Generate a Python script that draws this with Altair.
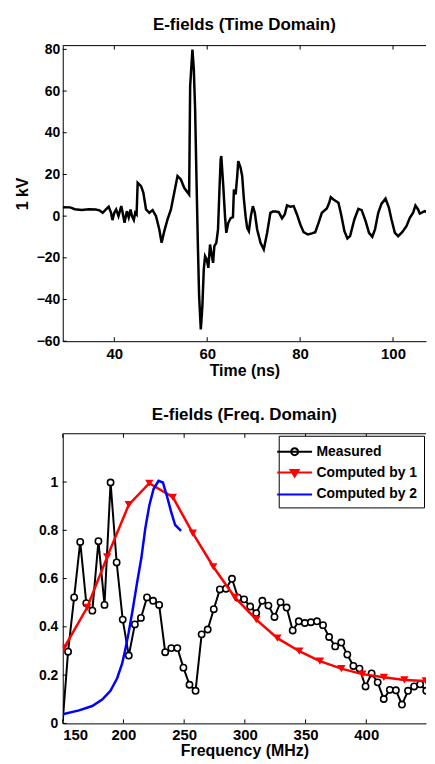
import altair as alt
import pandas as pd

FONT = "Liberation Sans"

# ---------------- Time-domain data ----------------
time_ns = [28.9, 30.5, 31.5, 33.0, 34.5, 36.0, 36.8, 37.5, 38.2, 38.8, 39.3, 39.6, 40.0, 40.4,
           40.9, 41.5, 41.8, 42.2, 42.7, 43.1, 43.5, 43.8, 44.2, 44.5, 44.8, 45.03, 45.76, 46.26,
           46.83, 47.54, 48.25, 48.98, 49.69, 50.18, 50.76, 51.46, 52.19, 52.90, 53.61, 54.33,
           55.04, 56.11, 56.33, 56.82, 57.12, 57.40, 57.68, 57.98, 58.26, 58.62, 58.96, 59.26,
           59.54, 59.90, 60.25, 60.61, 60.89, 61.26, 61.54, 61.96, 62.33, 62.61, 62.90, 63.03,
           63.46, 63.83, 64.11, 64.54, 65.05, 65.54, 65.75, 66.12, 66.46, 66.68, 67.19, 67.53,
           67.90, 68.26, 68.60, 68.97, 69.40, 69.83, 70.25, 70.75, 71.48, 72.18, 72.9, 73.6, 74.1,
           74.8, 75.40, 76.10, 76.68, 77.18, 77.90, 78.61, 79.32, 80.05, 80.75, 81.68, 82.53,
           83.26, 83.97, 84.68, 85.75, 86.26, 86.60, 87.18, 88.25, 88.83, 89.54, 90.18, 90.76,
           91.68, 92.54, 93.25, 94.10, 94.83, 95.54, 96.12, 96.82, 97.53, 98.39, 99.12, 99.67,
           100.40, 101.11, 101.97, 102.89, 103.62, 104.32, 104.82, 105.40, 105.76, 106.83,
           107.54, 108.61, 110.0]
efield_kv = [4.3, 4.2, 3.3, 3.0, 3.3, 3.2, 2.8, 1.6, 3.2, 4.5, 1.6, -1.9, 1.6, 3.2,
             0.0, 4.8, 1.6, -3.2, 2.4, -0.6, 3.2, 0.0, -1.9, 1.6, 0.8, 16.0, 14.4, 11.2,
             3.2, 1.6, 2.9, 0.0, -6.4, -12.8, -7.2, -1.6, 3.2, 11.2, 19.2, 17.6,
             13.6, 10.4, 62.4, 79.9, 70.3, 51.1, 19.2, -12.8, -38.4, -54.4, -43.2, -25.6,
             -19.2, -20.8, -24.8, -13.6, -17.6, -22.4, -14.4, -12.8, -6.4, 11.2, 27.2, 28.8,
             14.4, 0.0, -8.0, -3.2, -1.0, -0.5, 12.8, 10.4, 19.2, 26.4, 23.2, 19.2,
             8.0, 0.0, -5.6, -7.2, 0.0, 4.8, 1.6, -6.4, -12.8, -16.0, -8.0, 1.6, 2.2,
             2.2, 1.9, -1.1, 0.8, 5.1, 4.5, 4.8, 0.8, -4.0, -7.7, -8.8, -8.3,
             -7.7, -3.2, 1.6, 3.7, 6.4, 9.1, 8.0, 6.4, 0.8, -7.2, -10.7, -9.6,
             -1.6, 3.5, 2.9, -2.4, -8.0, -9.9, -6.4, 1.6, 6.0, 8.4, 4.0, -1.6,
             -8.0, -9.6, -7.7, -4.8, -0.8, 1.6, 5.1, 3.2, 1.2, 2.4,
             1.6, 2.1, 2.0]
time_ticks = [40, 60, 80, 100]
kv_ticks = [-60, -40, -20, 0, 20, 40, 60, 80]

# ---------------- Frequency-domain data ----------------
meas_freq = [150.0, 154.4, 159.4, 164.4, 169.4, 174.4, 179.4, 184.4, 189.4, 194.4, 199.4,
             204.4, 209.4, 214.4, 219.4, 224.4, 229.4, 234.4, 239.4, 244.4, 249.4,
             254.4, 259.4, 264.4, 269.4, 274.4, 279.4, 284.4, 289.4, 294.4, 299.4,
             304.4, 309.4, 314.4, 319.4, 324.4, 329.4, 334.4, 339.4, 344.4, 349.4,
             354.4, 359.4, 364.4, 369.4, 374.4, 379.4, 384.4, 389.4, 394.4, 399.4,
             404.4, 409.4, 414.4, 419.4, 424.4, 429.4, 434.4, 439.4, 444.4, 449.4,
             454.4, 459.4]
meas_amp = [0.01, 0.297, 0.522, 0.752, 0.498, 0.467, 0.755, 0.491, 0.998, 0.667, 0.43,
            0.281, 0.41, 0.437, 0.522, 0.508, 0.491, 0.295, 0.312, 0.312, 0.231,
            0.16, 0.135, 0.369, 0.389, 0.473, 0.555, 0.558, 0.599, 0.521, 0.514,
            0.484, 0.457, 0.508, 0.488, 0.441, 0.502, 0.48, 0.385, 0.423, 0.416,
            0.419, 0.423, 0.407, 0.358, 0.319, 0.335, 0.285, 0.238, 0.227, 0.153,
            0.207, 0.17, 0.101, 0.139, 0.137, 0.078, 0.135, 0.153, 0.162, 0.135,
            0.162, 0.165]
c1_freq = [151.1, 170.2, 186.6, 204.4, 221.3, 240.7, 257.1, 274.0, 291.8, 309.4, 326.8,
           344.8, 361.8, 379.5, 396.8, 414.5, 431.4, 449.0, 466.5]
c1_amp = [0.313, 0.481, 0.69, 0.906, 0.995, 0.937, 0.788, 0.649, 0.522, 0.43, 0.353,
          0.299, 0.258, 0.227, 0.204, 0.191, 0.18, 0.176, 0.168]
c2_freq = [150.0, 163.4, 174.3, 182.5, 189.3, 194.8, 198.9, 201.6, 204.3, 207.6, 211.1,
           214.8, 218.0, 221.3, 224.8, 228.9, 232.5, 235.7, 239.3, 242.6, 247.5]
c2_amp = [0.038, 0.054, 0.072, 0.099, 0.135, 0.187, 0.247, 0.308, 0.376, 0.471, 0.579,
          0.687, 0.808, 0.903, 0.971, 1.005, 0.998, 0.944, 0.876, 0.822, 0.798]
freq_ticks = [150, 200, 250, 300, 350, 400]
amp_ticks = [0, 0.2, 0.4, 0.6, 0.8, 1]

series_names = ["Measured", "Computed by 1", "Computed by 2"]
series_stroke = ["black", "red", "blue"]
series_fill = ["white", "red", "blue"]
legend_paths = [
    "M-2,0H2M0.4,0A0.4,0.4,0,1,1,-0.4,0A0.4,0.4,0,1,1,0.4,0Z",
    "M-2,0H2M-0.46,-0.3L0.46,-0.3L0,0.46Z",
    "M-2,0H2",
]

PW = 365
TOP_H = 297
BOT_H = 291
TICK_PX = 4

T_DOM = [28.9, 107.1]
V_DOM = [-60, 81.8]
F_DOM = [150, 449.2]
A_DOM = [0, 1.2]


def frame_layers(xf, yf, xs, ys, xdom, ydom, xticks, yticks, w, h):
    """Top border and inward (MATLAB-style) ticks, all placed in data space."""
    dx = (xdom[1] - xdom[0]) * TICK_PX / w
    dy = (ydom[1] - ydom[0]) * TICK_PX / h
    one = pd.DataFrame({"k": [0]})
    xt = pd.DataFrame({xf: xticks})
    yt = pd.DataFrame({yf: yticks})
    border = alt.Chart(one).mark_rule(color="black", strokeWidth=1).encode(
        x=alt.X(datum=xdom[0], scale=xs), x2=alt.X2(datum=xdom[1]),
        y=alt.Y(datum=ydom[1], scale=ys))
    bt = alt.Chart(xt).mark_rule(color="black", strokeWidth=1).encode(
        x=alt.X(f"{xf}:Q", scale=xs), y=alt.Y(datum=ydom[0], scale=ys),
        y2=alt.Y2(datum=ydom[0] + dy))
    tt = alt.Chart(xt).mark_rule(color="black", strokeWidth=1).encode(
        x=alt.X(f"{xf}:Q", scale=xs), y=alt.Y(datum=ydom[1], scale=ys),
        y2=alt.Y2(datum=ydom[1] - dy))
    lt = alt.Chart(yt).mark_rule(color="black", strokeWidth=1).encode(
        y=alt.Y(f"{yf}:Q", scale=ys), x=alt.X(datum=xdom[0], scale=xs),
        x2=alt.X2(datum=xdom[0] + dx))
    return [border, bt, tt, lt]


# ---------------- Top chart ----------------
top_df = pd.DataFrame({"t": time_ns, "v": efield_kv})
t_scale = alt.Scale(domain=T_DOM, nice=False, zero=False)
v_scale = alt.Scale(domain=V_DOM, nice=False, zero=False)
top_line = alt.Chart(top_df).mark_line(color="black", strokeWidth=2.5, clip=True).encode(
    x=alt.X("t:Q", scale=t_scale,
            axis=alt.Axis(values=time_ticks, title="Time (ns)", format="d", titlePadding=1)),
    y=alt.Y("v:Q", scale=v_scale,
            axis=alt.Axis(values=kv_ticks, title="1 kV", format="d", titlePadding=6,
                          labelPadding=3)),
)
top = alt.layer(
    top_line,
    *frame_layers("t", "v", t_scale, v_scale, T_DOM, V_DOM, time_ticks, kv_ticks, PW, TOP_H),
).properties(
    width=PW, height=TOP_H,
    title=alt.Title("E-fields (Time Domain)", offset=8),
)

# ---------------- Bottom chart ----------------
f_scale = alt.Scale(domain=F_DOM, nice=False, zero=False)
a_scale = alt.Scale(domain=A_DOM, nice=False)
xf = alt.X("f:Q", scale=f_scale,
           axis=alt.Axis(values=freq_ticks, title="Frequency (MHz)", format="d",
                         labelPadding=4, titlePadding=0))
ya = alt.Y("a:Q", scale=a_scale,
           axis=alt.Axis(values=amp_ticks, title=None, format="~g", labelPadding=5))

meas_df = pd.DataFrame({"f": meas_freq, "a": meas_amp})
c1_df = pd.DataFrame({"f": c1_freq, "a": c1_amp})
c2_df = pd.DataFrame({"f": c2_freq, "a": c2_amp})

meas_line = alt.Chart(meas_df).mark_line(color="black", strokeWidth=2, clip=True).encode(x=xf, y=ya)
meas_pts = alt.Chart(meas_df).transform_filter(alt.datum.f > 150.1).mark_point(
    shape="circle", filled=True, fill="white", stroke="black", strokeWidth=1.6, size=40,
    opacity=1, clip=True).encode(x=xf, y=ya)
c1_line = alt.Chart(c1_df).mark_line(color="red", strokeWidth=2.5, clip=True).encode(x=xf, y=ya)
c1_pts = alt.Chart(c1_df).mark_point(shape="triangle-down", filled=True, color="red",
                                     size=70, opacity=1, clip=True).encode(x=xf, y=ya)
c2_line = alt.Chart(c2_df).mark_line(color="blue", strokeWidth=2.5, clip=True).encode(x=xf, y=ya)

leg = alt.Legend(
    title=None, orient="top-right", offset=2, padding=6,
    fillColor="white", strokeColor="black",
    labelFont=FONT, labelFontSize=14, labelFontWeight="bold", labelColor="black",
    symbolSize=306, symbolStrokeWidth=2, symbolOpacity=1, labelOffset=12,
    rowPadding=3, labelLimit=300,
)
leg_df = pd.DataFrame({"series": series_names})
legend_layer = alt.Chart(leg_df).mark_point(opacity=0).encode(
    shape=alt.Shape("series:N", scale=alt.Scale(domain=series_names, range=legend_paths), legend=leg),
    stroke=alt.Stroke("series:N", scale=alt.Scale(domain=series_names, range=series_stroke), legend=leg),
    fill=alt.Fill("series:N", scale=alt.Scale(domain=series_names, range=series_fill), legend=leg),
)

bottom = alt.layer(
    meas_line, meas_pts, c1_line, c1_pts, c2_line,
    *frame_layers("f", "a", f_scale, a_scale, F_DOM, A_DOM, freq_ticks, amp_ticks, PW, BOT_H),
    legend_layer,
).properties(
    width=PW, height=BOT_H,
    title=alt.Title("E-fields (Freq. Domain)", offset=9),
)

chart = alt.vconcat(top, bottom, spacing=28).resolve_scale(
    shape="independent", stroke="independent", fill="independent"
).resolve_legend(
    shape="independent", stroke="independent", fill="independent"
).properties(
    padding={"left": 6, "top": 6, "right": 0, "bottom": 0}
).configure_axis(
    labelFont=FONT, labelFontWeight="bold", labelFontSize=14, labelColor="black",
    titleFont=FONT, titleFontWeight="bold", titleFontSize=16, titleColor="black",
    domainColor="black", domainWidth=1, grid=False, ticks=False, labelPadding=4,
).configure_axisX(
    labelFontSize=15, labelPadding=5, titlePadding=3,
).configure_view(
    strokeWidth=0,
).configure_title(
    font=FONT, fontSize=17, fontWeight="bold", color="black",
)

chart.save("out.html", embed_options={"renderer": "svg", "actions": False})
